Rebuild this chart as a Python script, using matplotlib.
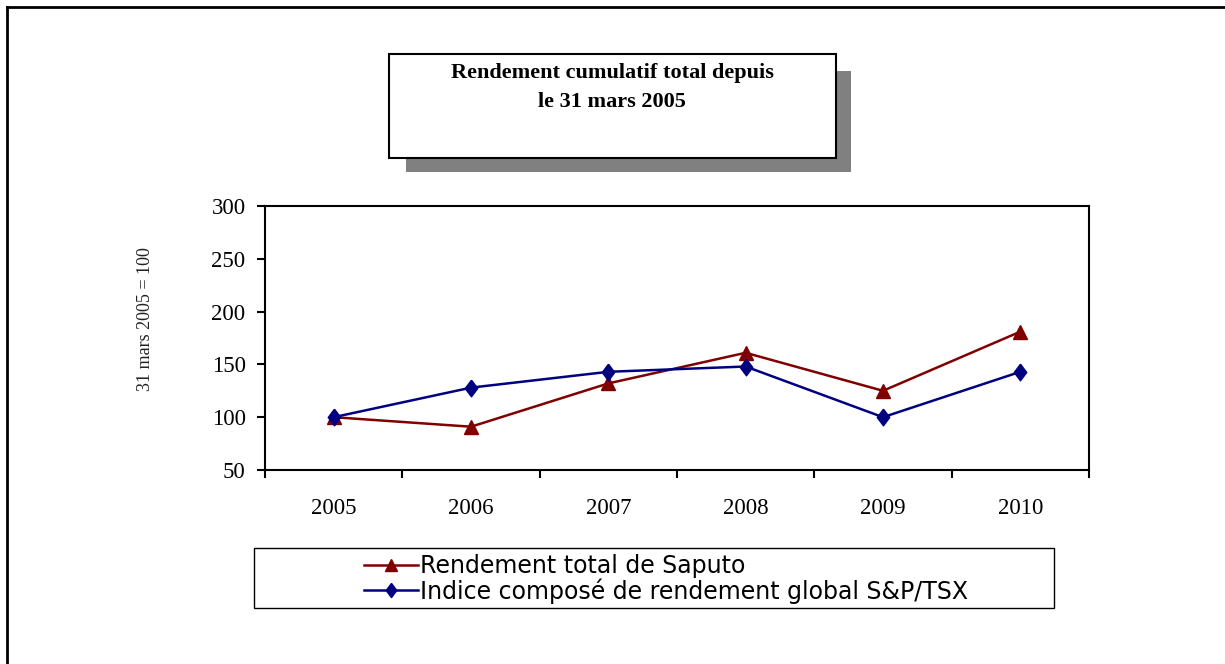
import matplotlib.pyplot as plt
from matplotlib.patches import Rectangle
from matplotlib.lines import Line2D

# data
years = ['2005', '2006', '2007', '2008', '2009', '2010']
saputo = [100, 91, 132, 161, 125, 181]
tsx = [100, 128, 143, 148, 100, 143]
y_ticks = [50, 100, 150, 200, 250, 300]

W, H = 1225, 664
fig = plt.figure(figsize=(W / 100, H / 100), dpi=100)


def fx(px):
    return px / W


def fy(py):
    return 1 - py / H


serif = 'Liberation Serif'
diamond = [(0, 1), (0.75, 0), (0, -1), (-0.75, 0), (0, 1)]

# outer frame (left and top edges only are visible)
fig.add_artist(Line2D([fx(7), fx(7)], [fy(7), 0], transform=fig.transFigure,
                      color='black', lw=2))
fig.add_artist(Line2D([fx(7), 1], [fy(7), fy(7)], transform=fig.transFigure,
                      color='black', lw=2))

# title box with shadow
fig.add_artist(Rectangle((fx(406), fy(172)), fx(851 - 406), (172 - 71) / H,
                         transform=fig.transFigure, facecolor='#808080',
                         edgecolor='none'))
fig.add_artist(Rectangle((fx(389), fy(158)), fx(836 - 389), (158 - 54) / H,
                         transform=fig.transFigure, facecolor='white',
                         edgecolor='black', lw=1.5))
fig.text(fx(612), fy(73), 'Rendement cumulatif total depuis', ha='center',
         va='center', fontsize=16, fontweight='bold', family=serif)
fig.text(fx(612), fy(102), 'le 31 mars 2005', ha='center', va='center',
         fontsize=16, fontweight='bold', family=serif)

# main axes
ax = fig.add_axes([fx(265), fy(470), fx(1089 - 265), (470 - 206) / H])
x = list(range(len(years)))
ax.plot(x, saputo, color='#800000', lw=1.8, marker='^', markersize=10,
        label='Rendement total de Saputo')
ax.plot(x, tsx, color='#000080', lw=1.8, marker=diamond, markersize=12,
        label='Indice composé de rendement global S&P/TSX')

ax.set_xlim(-0.5, len(years) - 0.5)
ax.set_ylim(50, 300)
ax.set_yticks(y_ticks)
ax.set_yticklabels([str(v) for v in y_ticks], family=serif, fontsize=16.5)
ax.set_xticks([i - 0.5 for i in range(len(years) + 1)])
ax.set_xticklabels([])
ax.set_xticks(x, minor=True)
ax.set_xticklabels(years, minor=True, family=serif, fontsize=16.5)
ax.tick_params(axis='x', which='major', direction='out', length=6, width=1.5)
ax.tick_params(axis='x', which='minor', length=0, pad=20)
ax.tick_params(axis='y', direction='out', length=6, width=1.5, pad=8)
for s in ax.spines.values():
    s.set_linewidth(1.5)

fig.text(fx(145), fy(319), '31 mars 2005 = 100', rotation=90, ha='center',
         va='center', fontsize=13, family=serif, color='#222222')

# legend box
fig.add_artist(Rectangle((fx(254), fy(608)), fx(1054 - 254), (608 - 548) / H,
                         transform=fig.transFigure, facecolor='white',
                         edgecolor='black', lw=1))
fig.legend(*ax.get_legend_handles_labels(), loc='center left',
           bbox_to_anchor=(fx(352), fy(579)), frameon=False,
           handlelength=2.3, handletextpad=0.1, labelspacing=0.0,
           borderpad=0, markerscale=0.85,
           prop={'family': 'DejaVu Sans', 'size': 17})

fig.savefig('out.png', dpi=100)
